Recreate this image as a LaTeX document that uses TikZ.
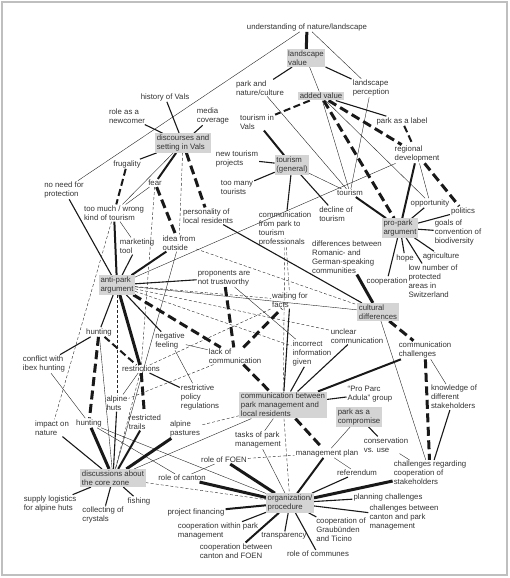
\documentclass[tikz,border=0pt]{standalone}
\usepackage{fontspec}
\setmainfont{Liberation Sans}
\usetikzlibrary{backgrounds}

\begin{document}
\begin{tikzpicture}[x=1pt, y=-1pt,
    every node/.style={font=\fontsize{7.8}{9}\selectfont, text=black!80},
    concept/.style={align=left, inner sep=1pt},
    category/.style={align=left, inner sep=1.5pt, fill=black!17},
    weak/.style={line width=0.4pt, black!85},
    weakdash/.style={line width=0.4pt, black!85, dash pattern=on 3pt off 2pt},
    medium/.style={line width=1.1pt, black!90},
    strong/.style={line width=2pt, black!90},
    strongdash/.style={line width=2pt, black!90, dash pattern=on 7pt off 3.5pt},
    heavy/.style={line width=3pt, black!90},
    heavydash/.style={line width=3pt, black!90, dash pattern=on 9pt off 4.5pt}]
   \useasboundingbox (0,0) rectangle (510,578);

   % top: landscape and added value
   \node[concept] (UN) at (307,27) {understanding of nature/landscape};
   \node[category] (LV) at (306,58) {landscape\\value};
   \node[concept] (PN) at (260,88) {park and\\nature/culture};
   \node[concept] (LP) at (371,88) {landscape\\perception};
   \node[category] (AV) at (321,96) {added value};
   \node[concept] (TV) at (257,122) {tourism in\\Vals};
   \node[concept] (PL) at (402,121) {park as a label};

   % discourses
   \node[concept] (HV) at (165,97) {history of Vals};
   \node[concept] (RN) at (127,116) {role as a\\newcomer};
   \node[concept] (MC) at (213,116) {media\\coverage};
   \node[category] (DS) at (183,143) {discourses and\\setting in Vals};
   \node[concept] (FR) at (127,164) {frugality};
   \node[concept] (FE) at (155,183) {fear};
   \node[concept] (NP) at (64,190) {no need for\\protection};
   \node[concept] (TM) at (114,213) {too much / wrong\\kind of tourism};
   \node[concept] (PR) at (208,216) {personality of\\local residents};
   \node[concept] (MT) at (137,246) {marketing\\tool};
   \node[concept] (IO) at (179,243) {idea from\\outside};
   \node[category] (AP) at (117,285) {anti-park\\argument};
   \node[concept] (PT) at (224,278) {proponents are\\not trustworthy};

   % tourism and pro-park
   \node[concept] (NT) at (237,159) {new tourism\\projects};
   \node[concept] (TT) at (237,188) {too many\\tourists};
   \node[category] (TG) at (292,165) {tourism\\(general)};
   \node[concept] (RD) at (417,154) {regional\\development};
   \node[concept] (TS) at (350,193) {tourism};
   \node[concept] (OP) at (430,203) {opportunity};
   \node[concept] (PO) at (463,211) {politics};
   \node[concept] (DT) at (336,214) {decline of\\tourism};
   \node[concept] (CT) at (285,229) {communication\\from park to\\tourism\\professionals};
   \node[category] (PP) at (400,228) {pro-park\\argument};
   \node[concept] (GC) at (458,232) {goals of\\convention of\\biodiversity};
   \node[concept] (DR) at (347,257) {differences between\\Romanic- and\\German-speaking\\communities};
   \node[concept] (HO) at (405,258) {hope};
   \node[concept] (AG) at (441,256) {agriculture};
   \node[concept] (LN) at (433,281) {low number of\\protected\\areas in\\Switzerland};
   \node[concept] (CO) at (387,281) {cooperation};
   \node[category] (CD) at (378,312) {cultural\\differences};

   % communication
   \node[concept] (WF) at (290,300) {waiting for\\facts};
   \node[concept] (UC) at (357,336) {unclear\\communication};
   \node[concept] (II) at (312,353) {incorrect\\information\\given};
   \node[concept] (CC) at (425,350) {communication\\challenges};
   \node[concept] (NF) at (170,341) {negative\\feeling};
   \node[concept] (LC) at (235,356) {lack of\\communication};
   \node[concept] (HU) at (99,332) {hunting};
   \node[concept] (CI) at (44,364) {conflict with\\ibex hunting};
   \node[concept] (RE) at (141,369) {restrictions};
   \node[concept] (RP) at (200,397) {restrictive\\policy\\regulations};
   \node[concept] (AH) at (117,403) {alpine\\huts};
   \node[category] (CB) at (283,405) {communication between\\park management and\\local residents};
   \node[concept] (PA) at (370,394) {“Pro Parc\\Adula” group};
   \node[concept] (KS) at (454,397) {knowledge of\\different\\stakeholders};
   \node[category] (PC) at (359,417) {park as a\\compromise};

   % core zone and organization
   \node[concept] (IN) at (52,428) {impact on\\nature};
   \node[concept] (HL) at (89,423) {hunting};
   \node[concept] (RT) at (145,422) {restricted\\trails};
   \node[concept] (PS) at (185,429) {alpine\\pastures};
   \node[concept] (TK) at (258,440) {tasks of park\\management};
   \node[concept] (CU) at (386,445) {conservation\\vs. use};
   \node[concept] (MP) at (327,453) {management plan};
   \node[concept] (RF) at (224,460) {role of FOEN};
   \node[concept] (CS) at (430,473) {challenges regarding\\cooperation of\\stakeholders};
   \node[concept] (RR) at (357,473) {referendum};
   \node[category] (DC) at (113,478) {discussions about\\the core zone};
   \node[concept] (RC) at (182,478) {role of canton};
   \node[category] (OR) at (290,503) {organization/\\procedure};
   \node[concept] (PG) at (388,497) {planning challenges};
   \node[concept] (CP) at (404,517) {challenges between\\canton and park\\management};
   \node[concept] (SL) at (50,504) {supply logistics\\for alpine huts};
   \node[concept] (CR) at (103,515) {collecting of\\crystals};
   \node[concept] (FI) at (139,501) {fishing};
   \node[concept] (PF) at (196,512) {project financing};
   \node[concept] (CW) at (218,531) {cooperation within park\\management};
   \node[concept] (CF) at (236,551) {cooperation between\\canton and FOEN};
   \node[concept] (TR) at (284,536) {transparency};
   \node[concept] (RO) at (318,554) {role of communes};
   \node[concept] (CG) at (341,530) {cooperation of\\Graubünden\\and Ticino};

   \begin{pgfonlayer}{background}
   \draw[black!25, line width=1.5pt] (2,2) rectangle (507,575);

   \draw[heavy] (UN) to (LV);
   \draw[weak] (UN) to (LP);
   \draw[weak] (UN) to (NP);
   \draw[medium] (LV) to (PN);
   \draw[medium] (LV) to (LP);
   \draw[weak] (LV) to (AV);
   \draw[weak] (PN) to (TS);
   \draw[weak] (LP) to (TS);
   \draw[strongdash] (AV) to (TV);
   \draw[medium] (AV) to (PL);
   \draw[heavydash] (AV) to (RD);
   \draw[heavydash] (AV) to (PP);
   \draw[weak] (AV) to (TS);
   \draw[weak] (AV) to (OP);
   \draw[strongdash] (PL) to (RD);
   \draw[weak] (RD) to (OP);
   \draw[strong] (RD) to (PP);
   \draw[heavydash] (RD) to (PO);
   \draw[strong] (TS) to (PP);
   \draw[medium] (OP) to (PP);
   \draw[medium] (PO) to (PP);
   \draw[medium] (GC) to (PP);
   \draw[medium] (AG) to (PP);
   \draw[medium] (LN) to (PP);
   \draw[medium] (HO) to (PP);
   \draw[medium] (CO) to (PP);
   \draw[weak] (TG) to (TS);
   \draw[medium] (TG) to (DT);
   \draw[medium] (TG) to (CT);
   \draw[medium] (TG) to (NT);
   \draw[medium] (TG) to (TT);
   \draw[strong] (TV) to (TG);
   \draw[weak] (AP) to (RD);
   \draw[medium] (PR) to (CD);
   \draw[weakdash] (IO) to (CD);
   \draw[heavy] (DR) to (CD);

   \draw[medium] (HV) to (DS);
   \draw[medium] (RN) to (DS);
   \draw[medium] (MC) to (DS);
   \draw[medium] (DS) to (FR);
   \draw[weak] (DS) to (TM);
   \draw[weak] (FE) to (TM);
   \draw[strong] (DS) to (FE);
   \draw[heavydash] (FE) to (IO);
   \draw[heavydash] (DS) to (PR);
   \draw[weakdash] (DS) to (IO);
   \draw[weakdash] (FE) to (RE);
   \draw[weak] (IO) to (DC);
   \draw[strongdash] (FR) to (TM);
   \draw[weak] (TM) to (MT);
   \draw[strong] (TM) to (AP);
   \draw[medium] (NP) to (AP);
   \draw[medium] (MT) to (AP);
   \draw[weakdash] (TM) to (IN);

   \draw[medium] (AP) to (PT);
   \draw[strong] (AP) to (IO);
   \draw[weakdash] (AP) to (WF);
   \draw[weakdash] (AP) to (UC);
   \draw[weakdash] (AP) to (II);
   \draw[weak] (AP) to (CD);
   \draw[heavydash] (AP) to (LC);
   \draw[medium] (AP) to (NF);
   \draw[medium] (AP) to (HU);
   \draw[heavy] (AP) to (RE);
   \draw[weakdash] (AP) to (AH);
   \draw[strongdash] (HU) to (RE);
   \draw[medium] (HU) to (CI);
   \draw[heavydash] (HU) to (HL);
   \draw[weak] (HU) to (DC);
   \draw[weak] (NF) to (RP);
   \draw[medium] (RE) to (RP);
   \draw[heavydash] (RE) to (RT);
   \draw[weak] (RE) to (AH);
   \draw[weakdash] (RE) to (WF);
   \draw[weakdash] (RE) to (DC);
   \draw[weak] (NF) to (LC);
   \draw[weakdash] (LC) to (AH);
   \draw[heavydash] (PT) to (LC);
   \draw[weak] (PT) to (II);
   \draw[weakdash] (CT) to (WF);
   \draw[weakdash] (CT) to (CB);

   \draw[heavydash] (LC) to (CB);
   \draw[heavydash] (LC) to (WF);
   \draw[medium] (WF) to (CB);
   \draw[medium] (II) to (CB);
   \draw[medium] (UC) to (CB);
   \draw[strong] (CC) to (CB);
   \draw[medium] (PA) to (CB);
   \draw[heavydash] (CD) to (CC);
   \draw[weak] (CD) to (CS);
   \draw[weak] (CC) to (KS);
   \draw[heavydash] (CC) to (CS);
   \draw[medium] (KS) to (CS);
   \draw[weak] (CU) to (CS);
   \draw[medium] (PC) to (CU);
   \draw[weak] (PC) to (MP);
   \draw[heavydash] (CB) to (MP);
   \draw[weak] (CB) to (TK);
   \draw[weakdash] (CB) to (PS);
   \draw[weak] (CB) to (DC);
   \draw[weakdash] (CB) to (OR);
   \draw[weak] (MP) to (RR);

   \draw[weak] (TK) to (OR);
   \draw[strong] (MP) to (OR);
   \draw[medium] (RR) to (OR);
   \draw[heavy] (CS) to (OR);
   \draw[medium] (PG) to (OR);
   \draw[medium] (CP) to (OR);
   \draw[medium] (CG) to (OR);
   \draw[medium] (RO) to (OR);
   \draw[medium] (TR) to (OR);
   \draw[strong] (CF) to (OR);
   \draw[medium] (CW) to (OR);
   \draw[strong] (PF) to (OR);
   \draw[heavy] (RC) to (OR);
   \draw[heavy] (RF) to (OR);
   \draw[weakdash] (RF) to (MP);
   \draw[weak] (RC) to (RF);
   \draw[weakdash] (DC) to (OR);
   \draw[weak] (CI) to (HL);
   \draw[weak] (HL) to (RC);
   \draw[weak] (HL) to (OR);

   \draw[medium] (IN) to (DC);
   \draw[heavy] (HL) to (DC);
   \draw[medium] (AH) to (DC);
   \draw[strong] (RT) to (DC);
   \draw[heavy] (PS) to (DC);
   \draw[medium] (DC) to (SL);
   \draw[medium] (DC) to (CR);
   \draw[medium] (DC) to (FI);
   \end{pgfonlayer}
 \end{tikzpicture}
\end{document}
